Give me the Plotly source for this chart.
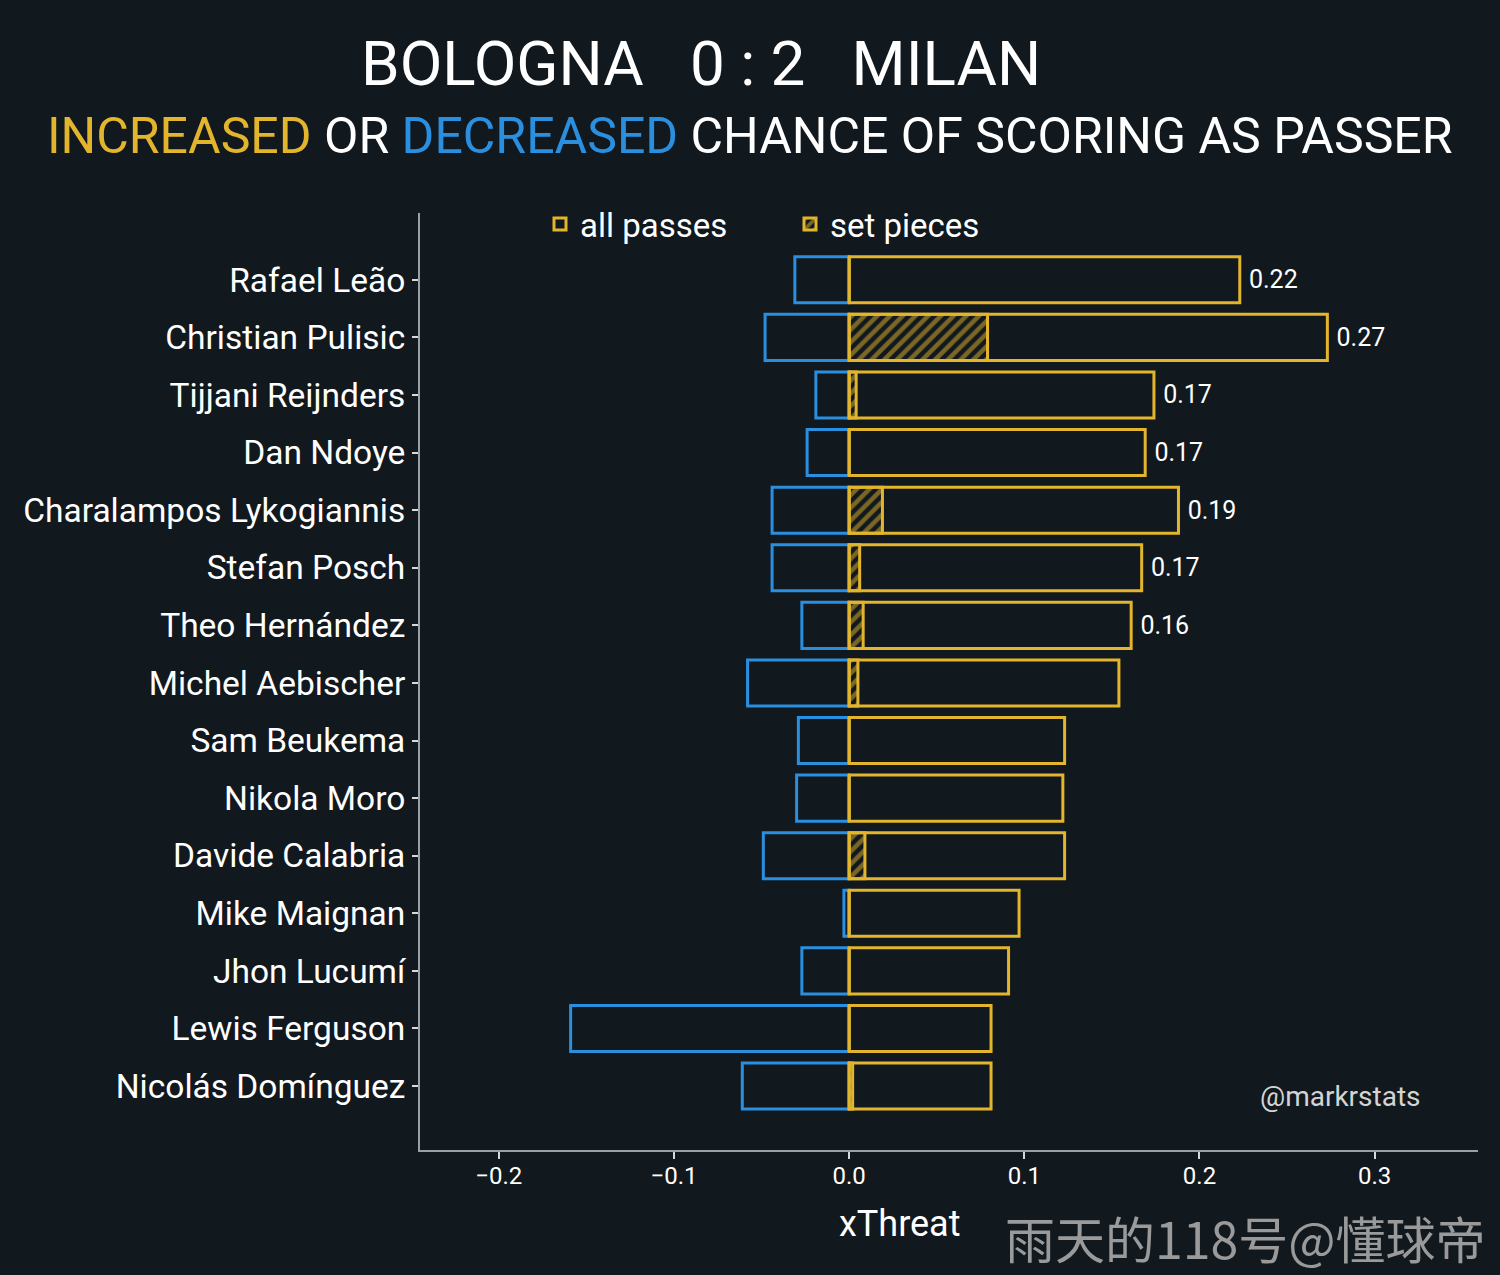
import plotly.graph_objects as go

BG = "#11181e"
YELLOW = "#e3b52c"
BLUE = "#2b8fdf"
AXIS = "#9aa0a6"
FONT = "Roboto"

players = [
    "Rafael Leão", "Christian Pulisic", "Tijjani Reijnders", "Dan Ndoye",
    "Charalampos Lykogiannis", "Stefan Posch", "Theo Hernández",
    "Michel Aebischer", "Sam Beukema", "Nikola Moro", "Davide Calabria",
    "Mike Maignan", "Jhon Lucumí", "Lewis Ferguson", "Nicolás Domínguez",
]
xt_decreased = [-0.031, -0.048, -0.019, -0.024, -0.044, -0.044, -0.027, -0.058,
                -0.029, -0.030, -0.049, -0.003, -0.027, -0.159, -0.061]
xt_increased = [0.223, 0.273, 0.174, 0.169, 0.188, 0.167, 0.161, 0.154,
                0.123, 0.122, 0.123, 0.097, 0.091, 0.081, 0.081]
xt_set_pieces = [0.0, 0.079, 0.004, 0.0, 0.019, 0.006, 0.008, 0.005,
                 0.0, 0.0, 0.009, 0.0, 0.0, 0.0, 0.002]
x_ticks = [-0.2, -0.1, 0.0, 0.1, 0.2, 0.3]

# only the top passers get a value label
labels = ["\u00a0" + f"{v:.2f}" if v >= 0.16 else "" for v in xt_increased]

fig = go.Figure()

fig.add_trace(go.Bar(
    y=players, x=xt_decreased, orientation="h", width=0.8,
    marker=dict(color="rgba(0,0,0,0)", line=dict(color=BLUE, width=3)),
    showlegend=False, name="decreased",
))
fig.add_trace(go.Bar(
    y=players, x=xt_increased, orientation="h", width=0.8,
    marker=dict(color="rgba(0,0,0,0)", line=dict(color=YELLOW, width=3)),
    text=labels, textposition="outside", constraintext="none",
    textfont=dict(color="white", size=25, family=FONT),
    cliponaxis=False, name="all passes",
))
fig.add_trace(go.Bar(
    y=players, x=xt_set_pieces, orientation="h", width=0.8,
    marker=dict(
        color="rgba(0,0,0,0)",
        line=dict(color=YELLOW, width=3),
        pattern=dict(shape="/", fgcolor=YELLOW, bgcolor="rgba(0,0,0,0)",
                     size=9, solidity=0.5),
    ),
    name="set pieces",
))

# plot area in pixels: left 420, top 213, width 1058, height 937
pl, pt, pw, ph = 420, 213, 1058, 937


def px_x(v):
    return (v - pl) / pw


def px_y(v):
    return (pt + ph - v) / ph


n = len(players)
fig.update_layout(
    width=1500, height=1275,
    paper_bgcolor=BG, plot_bgcolor=BG,
    barmode="overlay",
    margin=dict(l=420, r=22, t=213, b=125),
    font=dict(family=FONT, color="white"),
    legend=dict(
        orientation="h", x=px_x(540), y=px_y(224), xanchor="left", yanchor="middle",
        font=dict(size=33, color="white"), bgcolor="rgba(0,0,0,0)",
        traceorder="normal", entrywidth=205, entrywidthmode="pixels",
    ),
    xaxis=dict(
        range=[-0.245, 0.359], tickvals=x_ticks, tickformat=".1f",
        showgrid=False, zeroline=False,
        showline=True, linecolor=AXIS, linewidth=2,
        ticks="outside", ticklen=7, tickcolor="#d8d8d8", tickwidth=2,
        tickfont=dict(size=24, color="white"), ticklabelstandoff=-4,
    ),
    yaxis=dict(
        range=[n - 1 + 1.11, -1.16],
        showgrid=False, zeroline=False,
        showline=True, linecolor=AXIS, linewidth=2,
        ticks="outside", ticklen=6, tickcolor="#d8d8d8", tickwidth=2,
        tickfont=dict(size=33.5, color="white"),
    ),
    annotations=[
        dict(text="BOLOGNA   0 : 2   MILAN", x=px_x(701), y=px_y(63),
             xref="paper", yref="paper", xanchor="center", yanchor="middle",
             showarrow=False, font=dict(size=62, color="white")),
        dict(
            text=(f"<span style='color:{YELLOW}'>INCREASED</span> OR "
                  f"<span style='color:{BLUE}'>DECREASED</span> "
                  "CHANCE OF SCORING AS PASSER"),
            x=px_x(750), y=px_y(136), xref="paper", yref="paper",
            xanchor="center", yanchor="middle",
            showarrow=False, font=dict(size=50, color="white"),
        ),
        dict(text="xThreat", x=px_x(899), y=px_y(1224), xref="paper", yref="paper",
             xanchor="center", yanchor="middle", showarrow=False,
             font=dict(size=36, color="white")),
        dict(text="@markrstats", x=px_x(1423), y=px_y(1096), xref="paper", yref="paper",
             xanchor="right", yanchor="middle", showarrow=False,
             font=dict(size=28, color="#d4d4d4")),
        dict(text="雨天的118号@懂球帝", x=px_x(1488), y=px_y(1237),
             xref="paper", yref="paper", xanchor="right", yanchor="middle",
             showarrow=False, font=dict(size=50, color="#9a9a9a",
                                        family="Noto Sans CJK SC")),
    ],
)

fig.write_html(
    "out.html",
    config={"displayModeBar": False},
    post_script=(
        "document.body.style.margin='0';"
        "document.body.style.background='" + BG + "';"
        "document.documentElement.style.overflow='hidden';"
    ),
)
